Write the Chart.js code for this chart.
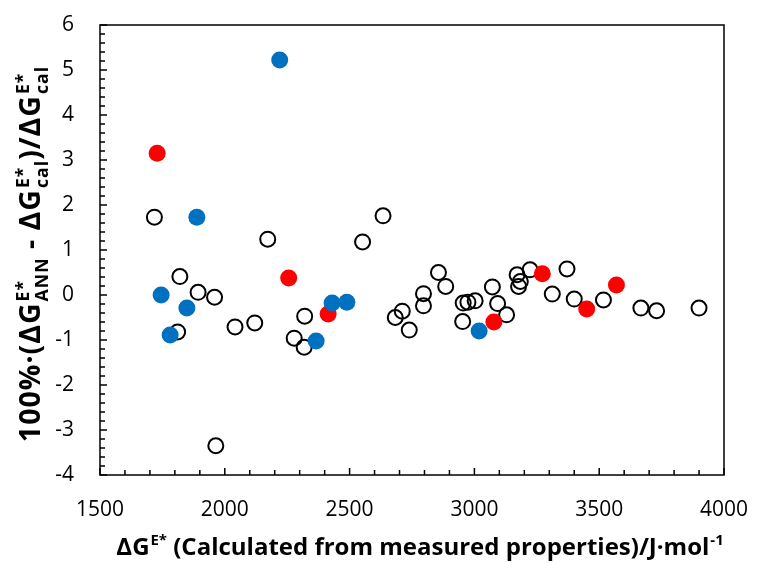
<!DOCTYPE html>
<html>
<head>
<meta charset="utf-8">
<script src="https://cdn.jsdelivr.net/npm/chart.js@4"></script>
<style>
  html, body { margin: 0; padding: 0; background: #fff; }
  #wrap { width: 761px; height: 563px; }
</style>
</head>
<body>
<div id="wrap"><canvas id="c"></canvas></div>
<script>
// open circles
const openX = [1718, 1820, 1811, 1893, 1959, 1964, 2041, 2120, 2172, 2278, 2318, 2320, 2552, 2634,
  2683, 2711, 2739, 2796, 2796, 2856, 2885, 2953, 2955, 2974, 3003, 3072, 3093, 3129, 3171, 3177,
  3184, 3223, 3312, 3371, 3400, 3517, 3667, 3730, 3900];
const openY = [1.73, 0.41, -0.82, 0.06, -0.05, -3.35, -0.71, -0.62, 1.24, -0.96, -1.16, -0.47, 1.18, 1.76,
  -0.50, -0.36, -0.78, 0.03, -0.24, 0.50, 0.19, -0.59, -0.18, -0.16, -0.13, 0.18, -0.19, -0.44, 0.45, 0.19,
  0.30, 0.56, 0.02, 0.58, -0.09, -0.11, -0.29, -0.35, -0.29];
// blue filled circles
const blueX = [2220, 1745, 1888, 1781, 1848, 2366, 2430, 2489, 3019];
const blueY = [5.22, 0.00, 1.73, -0.89, -0.29, -1.02, -0.18, -0.16, -0.80];
// red filled circles
const redX = [1729, 2256, 2414, 3078, 3272, 3450, 3569];
const redY = [3.15, 0.38, -0.42, -0.60, 0.47, -0.31, 0.22];

const xTicks = [1500, 2000, 2500, 3000, 3500, 4000];
const yTicks = [-4, -3, -2, -1, 0, 1, 2, 3, 4, 5, 6];

const toPts = (xs, ys) => xs.map((x, i) => ({ x: x, y: ys[i] }));

const FONT = '"Open Sans", Lato, sans-serif';

// draws text with superscript/subscript runs, centred on 0.
// font grows toward width up to maxSize, a little letter spacing covers part of the rest
function drawRich(ctx, parts, width, maxSize, maxExtra) {
  const measure = size => {
    const big = 'bold ' + size.toFixed(1) + 'px ' + FONT;
    const small = 'bold ' + (size * 0.62).toFixed(1) + 'px ' + FONT;
    const ws = parts.map(p => {
      if (p.t !== undefined) { ctx.font = big; return ctx.measureText(p.t).width; }
      ctx.font = small;
      return Math.max(p.sup ? ctx.measureText(p.sup).width : 0, p.sub ? ctx.measureText(p.sub).width : 0) + 1;
    });
    return { big, small, ws, total: ws.reduce((a, b) => a + b, 0) };
  };
  const lens = parts.map(p => p.t !== undefined ? p.t.length : Math.max((p.sup || '').length, (p.sub || '').length));
  const chars = lens.reduce((a, b) => a + b, 0);
  ctx.letterSpacing = '0px';
  let m = measure(20);
  const size = Math.min(maxSize, 20 * width / m.total);
  m = measure(size);
  const extra = Math.min(maxExtra, Math.max(0, (width - m.total) / chars));
  const ws = m.ws.map((w, i) => w + lens[i] * extra);
  const total = ws.reduce((a, b) => a + b, 0);
  ctx.letterSpacing = extra.toFixed(2) + 'px';
  let x = -total / 2;
  ctx.textAlign = 'left';
  ctx.textBaseline = 'alphabetic';
  parts.forEach((p, i) => {
    if (p.t !== undefined) { ctx.font = m.big; ctx.fillText(p.t, x, 0); }
    else {
      ctx.font = m.small;
      if (p.sup) ctx.fillText(p.sup, x + 1, -size * 0.4);
      if (p.sub) ctx.fillText(p.sub, x + 1, size * 0.28);
    }
    x += ws[i];
  });
  ctx.letterSpacing = '0px';
}

const framePlugin = {
  id: 'frame',
  beforeDatasetsDraw(chart) {
    const { ctx, chartArea: a, scales } = chart;
    ctx.save();
    ctx.strokeStyle = '#000';
    ctx.lineWidth = 1.5;
    ctx.strokeRect(a.left, a.top, a.right - a.left, a.bottom - a.top);
    ctx.beginPath();
    for (let v = 1500; v <= 4000; v += 100) {
      const px = scales.x.getPixelForValue(v);
      const len = v % 500 === 0 ? 7 : 5;
      ctx.moveTo(px, a.bottom);
      ctx.lineTo(px, a.bottom - len);
    }
    for (let k = -20; k <= 30; k++) {
      const py = scales.y.getPixelForValue(k / 5);
      const len = k % 5 === 0 ? 7 : 5;
      ctx.moveTo(a.left, py);
      ctx.lineTo(a.left + len, py);
    }
    ctx.stroke();
    ctx.restore();
  },
  afterDraw(chart) {
    const ctx = chart.ctx;
    ctx.save();
    ctx.fillStyle = '#000';
    ctx.translate(420, 555);
    drawRich(ctx, [{ t: 'ΔG' }, { sup: 'E*' }, { t: ' (Calculated from measured properties)/J·mol' }, { sup: '-1' }],
      626, 24, 0);
    ctx.restore();
    ctx.save();
    ctx.fillStyle = '#000';
    ctx.translate(40, 254);
    ctx.rotate(-Math.PI / 2);
    drawRich(ctx, [{ t: '100%·(ΔG' }, { sup: 'E*', sub: 'ANN' }, { t: ' - ΔG' }, { sup: 'E*', sub: 'cal' },
      { t: ')/ΔG' }, { sup: 'E*', sub: 'cal' }], 415, 28.5, 1);
    ctx.restore();
  }
};

const noPad = s => { s.paddingLeft = 0; s.paddingRight = 0; s.paddingTop = 0; s.paddingBottom = 0; };

new Chart(document.getElementById('c'), {
  type: 'scatter',
  data: {
    datasets: [{
      label: 'blue',
      data: toPts(blueX, blueY),
      backgroundColor: '#0070C0',
      borderColor: '#0070C0',
      borderWidth: 0,
      pointRadius: 8.5
    }, {
      label: 'red',
      data: toPts(redX, redY),
      backgroundColor: '#FF0000',
      borderColor: '#FF0000',
      borderWidth: 0,
      pointRadius: 8.5
    }, {
      label: 'open',
      data: toPts(openX, openY),
      backgroundColor: 'rgba(0,0,0,0)',
      borderColor: '#000',
      borderWidth: 2,
      pointRadius: 7.5
    }]
  },
  options: {
    responsive: true,
    maintainAspectRatio: false,
    animation: false,
    events: [],
    layout: { padding: { top: 25, right: 37, left: 0, bottom: 0 } },
    plugins: { legend: { display: false }, tooltip: { enabled: false } },
    scales: {
      x: {
        type: 'linear',
        min: 1500, max: 4000,
        afterBuildTicks: s => { s.ticks = xTicks.map(v => ({ value: v })); },
        afterFit: s => { s.height = 88; noPad(s); },
        grid: { display: false, drawTicks: false },
        border: { display: false },
        ticks: { color: '#000', font: { family: FONT, size: 21 }, padding: 22, maxRotation: 0,
          callback: v => String(v) }
      },
      y: {
        min: -4, max: 6,
        afterBuildTicks: s => { s.ticks = yTicks.map(v => ({ value: v })); },
        afterFit: s => { s.width = 100; noPad(s); },
        grid: { display: false, drawTicks: false },
        border: { display: false },
        ticks: { color: '#000', font: { family: FONT, size: 21 }, padding: 26, callback: v => String(v) }
      }
    }
  },
  plugins: [framePlugin]
});
</script>
</body>
</html>
